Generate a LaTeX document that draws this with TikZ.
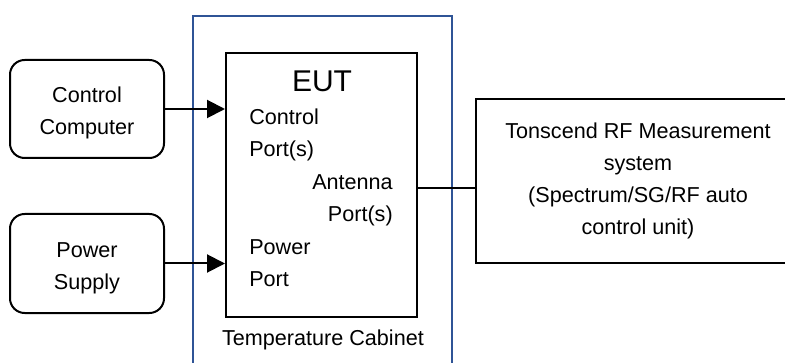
\documentclass[tikz,border=0pt]{standalone}
\usepackage{fontspec}
\setmainfont{Liberation Sans}
\usetikzlibrary{arrows.meta}
\begin{document}
\begin{tikzpicture}[x=0.75pt,y=-0.75pt,
  every node/.style={font=\fontsize{16.2}{24}\selectfont},
  blk/.style={draw=black,line width=1.5pt,inner sep=0pt},
  rblk/.style={blk,rounded corners=11pt},
  cabinet/.style={draw={rgb,255:red,47;green,84;blue,150},line width=1.5pt,inner sep=0pt},
  lbl/.style={inner sep=0pt,align=left},
  conn/.style={line width=1.5pt},
  arr/.style={conn,-{Triangle[length=13.5pt,width=13.5pt]}}]
\useasboundingbox (0,0) rectangle (785,363);
\clip (0,0) rectangle (785,363);
\fill[white] (0,0) rectangle (785,363);
\node[cabinet,minimum width=259*0.75pt,minimum height=370*0.75pt] (cab) at (322.5,201) {};
\node[blk,minimum width=191*0.75pt,minimum height=264*0.75pt] (eut) at (321.5,185) {};
\node[rblk,minimum width=154*0.75pt,minimum height=98*0.75pt] (cc) at (87,109) {};
\node[lbl,align=center] (ccl) at (87,113) {Control\\Computer};
\node[rblk,minimum width=154*0.75pt,minimum height=99*0.75pt] (ps) at (87,263.5) {};
\node[lbl,align=center] (psl) at (87,268) {Power\\Supply};
\node[blk,minimum width=324*0.75pt,minimum height=164*0.75pt,align=center] (ton) at (638,181)
  {Tonscend RF Measurement\\system\\(Spectrum/SG/RF auto\\control unit)};
\node[inner sep=0pt,font=\fontsize{22.5}{26}\selectfont] (eutl) at (322,81) {EUT};
\node[lbl,anchor=west] (cp) at (249,135) {Control\\Port(s)};
\node[lbl,anchor=east,align=right] (ap) at (393,200) {Antenna\\Port(s)};
\node[lbl,anchor=west] (pp) at (249,263) {Power\\Port};
\node[inner sep=0pt] (cabl) at (323,340) {Temperature Cabinet};
\draw[arr] (cc.east) -- (eut.west |- cc.east);
\draw[arr] (ps.east) -- (eut.west |- ps.east);
\draw[conn] (eut.east |- 0,188) -- (ton.west |- 0,188);
\end{tikzpicture}
\end{document}
